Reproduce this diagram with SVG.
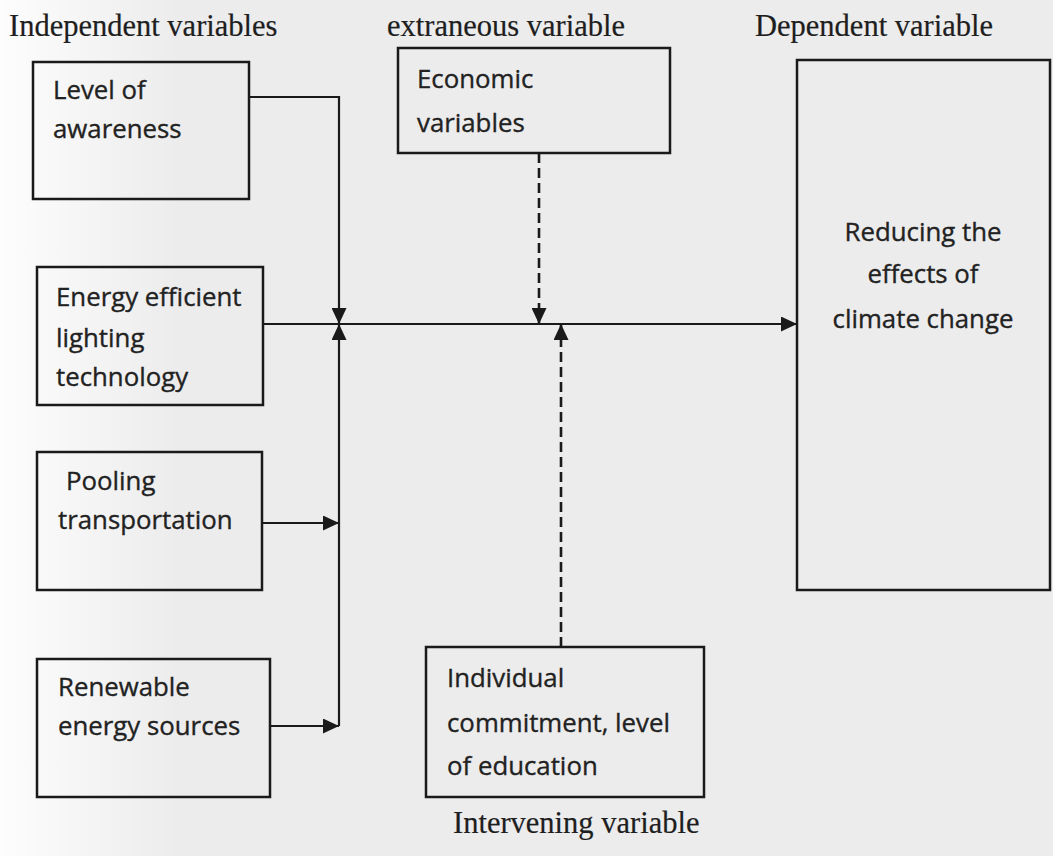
<svg xmlns="http://www.w3.org/2000/svg" width="1053" height="856" viewBox="0 0 1053 856">
  <defs>
    <linearGradient id="bgfade" x1="0" y1="0" x2="1" y2="0">
      <stop offset="0" stop-color="#ffffff" stop-opacity="0.9"/>
      <stop offset="1" stop-color="#ffffff" stop-opacity="0"/>
    </linearGradient>
    <marker id="arrow" viewBox="0 0 16 15" markerWidth="16" markerHeight="15" refX="16" refY="7.5" orient="auto" markerUnits="userSpaceOnUse">
      <path d="M0,0 L16,7.5 L0,15 Z" fill="#1a1a1a" stroke="none"/>
    </marker>
    <style>
      .box { fill: none; stroke: #1a1a1a; stroke-width: 2.5; }
      .hdr { font-family: "Liberation Serif", "Times New Roman", serif; font-size: 30.5px; fill: #1e1e1e; stroke: #1e1e1e; stroke-width: 0.2px; }
      .lbl { font-family: "Open Sans", "Noto Sans", sans-serif; font-size: 25.8px; fill: #222; stroke: #222; stroke-width: 0.35px; }
      .mid { text-anchor: middle; }
      .conn { fill: none; stroke: #1a1a1a; stroke-width: 2.2; }
      .dash { stroke-dasharray: 10 5; stroke-width: 2.6; }
    </style>
  </defs>

  <rect x="0" y="0" width="1053" height="856" fill="#ececec"/>
  <rect x="0" y="0" width="180" height="856" fill="url(#bgfade)"/>

  <g id="headers">
    <text class="hdr" x="9" y="36">Independent variables</text>
    <text class="hdr" x="387" y="36">extraneous variable</text>
    <text class="hdr" x="755" y="36">Dependent variable</text>
    <text class="hdr" x="453" y="833">Intervening variable</text>
  </g>

  <g id="connectors">
    <path class="conn" d="M249,97 H339 V324" marker-end="url(#arrow)"/>
    <path class="conn" d="M339,726 V324" marker-end="url(#arrow)"/>
    <path class="conn" d="M262,523 H339" marker-end="url(#arrow)"/>
    <path class="conn" d="M270,726 H339" marker-end="url(#arrow)"/>
    <path class="conn" d="M263,324 H797" marker-end="url(#arrow)"/>
    <path class="conn dash" d="M539,153 V324" marker-end="url(#arrow)"/>
    <path class="conn dash" d="M561,647 V324" marker-end="url(#arrow)"/>
  </g>

  <g id="awareness">
    <rect class="box" x="33" y="62" width="216" height="137"/>
    <text class="lbl" x="53" y="99">Level of</text>
    <text class="lbl" x="53" y="138">awareness</text>
  </g>

  <g id="lighting">
    <rect class="box" x="37" y="267" width="226" height="138"/>
    <text class="lbl" x="56" y="306">Energy efficient</text>
    <text class="lbl" x="56" y="347">lighting</text>
    <text class="lbl" x="56" y="386">technology</text>
  </g>

  <g id="pooling">
    <rect class="box" x="37" y="452" width="225" height="138"/>
    <text class="lbl" x="66" y="490">Pooling</text>
    <text class="lbl" x="58" y="529">transportation</text>
  </g>

  <g id="renewable">
    <rect class="box" x="37" y="659" width="233" height="138"/>
    <text class="lbl" x="58" y="696">Renewable</text>
    <text class="lbl" x="58" y="735">energy sources</text>
  </g>

  <g id="economic">
    <rect class="box" x="398" y="48" width="272" height="105"/>
    <text class="lbl" x="417" y="88">Economic</text>
    <text class="lbl" x="417" y="132">variables</text>
  </g>

  <g id="intervening">
    <rect class="box" x="426" y="647" width="278" height="150"/>
    <text class="lbl" x="447" y="687">Individual</text>
    <text class="lbl" x="447" y="732">commitment, level</text>
    <text class="lbl" x="447" y="775">of education</text>
  </g>

  <g id="dependent">
    <rect class="box" x="797" y="60" width="253" height="530"/>
    <text class="lbl mid" x="923" y="241">Reducing the</text>
    <text class="lbl mid" x="923" y="283">effects of</text>
    <text class="lbl mid" x="923" y="328">climate change</text>
  </g>
</svg>
